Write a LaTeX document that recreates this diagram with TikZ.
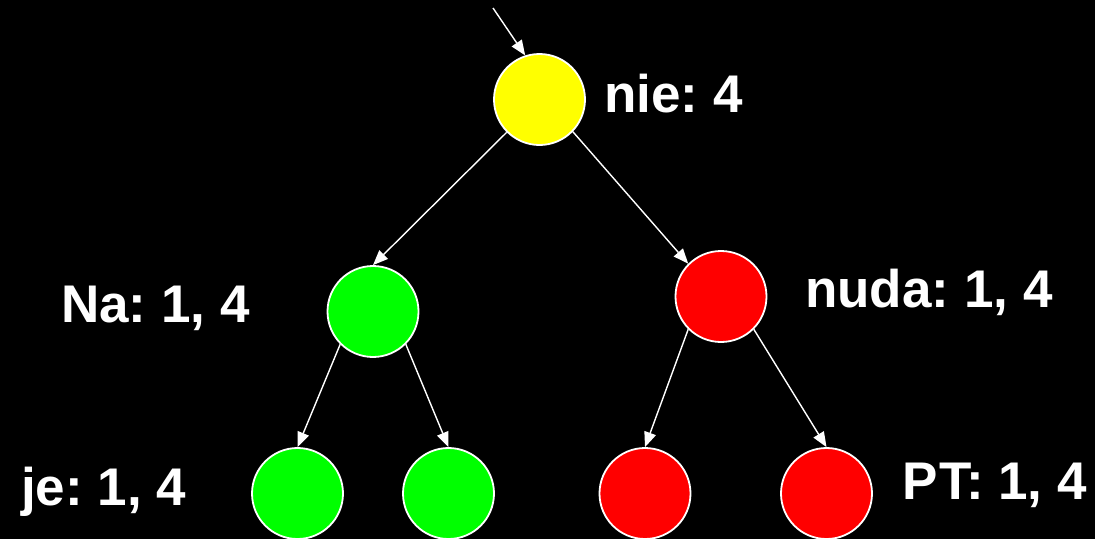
\documentclass[tikz,border=0pt]{standalone}
\usepackage{fontspec}
\setmainfont{Liberation Sans}
\usetikzlibrary{arrows.meta}
\definecolor{ylw}{RGB}{255,255,0}
\definecolor{grn}{RGB}{0,255,0}
\definecolor{rd}{RGB}{255,0,0}
\frenchspacing
\tikzset{
  state/.style={circle, draw=white, line width=1.8pt, minimum size=91pt, inner sep=0pt},
  lbl/.style={text=white, font=\fontsize{53}{60}\selectfont\bfseries, anchor=base west, inner sep=0pt},
  edge/.style={draw=white, line width=1.4pt, -{Triangle[length=15pt,width=12pt]}}
}
\begin{document}
\begin{tikzpicture}[x=1pt,y=-1pt]
\fill[black] (0,0) rectangle (1095,539);
\useasboundingbox (0,0) rectangle (1095,539);
\node[state, fill=ylw] (root) at (539.5,99.5) {};
\node[state, fill=grn] (na) at (373,311.5) {};
\node[state, fill=rd] (nuda) at (721,296.5) {};
\node[state, fill=grn] (l1) at (297.5,493.5) {};
\node[state, fill=grn] (l2) at (448.5,493.5) {};
\node[state, fill=rd] (l3) at (645,493.5) {};
\node[state, fill=rd] (l4) at (826.5,493.5) {};
\coordinate (init) at (493,8);
\node[lbl] (tnie) at (604,112) {nie: 4};
\node[lbl] (tna) at (61,322) {Na: 1, 4};
\node[lbl] (tnuda) at (805,307) {nuda: 1, 4};
\node[lbl] (tje) at (21,505) {je: 1, 4};
\node[lbl] (tpt) at (902,499) {P\kern2ptT: 1, 4};
\draw[edge] (init) -- (root.108);
\draw[edge] (root.-135) -- (na.north);
\draw[edge] (root.-44) -- (nuda.135);
\draw[edge] (na.-135) -- (l1.north);
\draw[edge] (na.-45) -- (l2.north);
\draw[edge] (nuda.-135) -- (l3.north);
\draw[edge] (nuda.-45) -- (l4.north);
\end{tikzpicture}
\end{document}
